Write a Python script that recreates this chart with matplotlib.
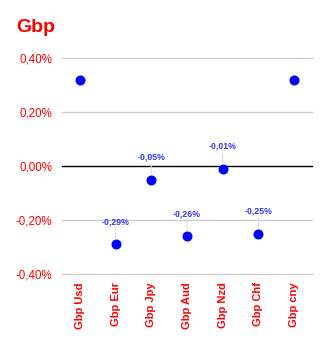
import matplotlib
matplotlib.use("Agg")
import matplotlib.pyplot as plt
from matplotlib.ticker import FuncFormatter

plt.rcParams["font.family"] = ["Liberation Sans", "DejaVu Sans"]

pairs = ["Gbp Usd", "Gbp Eur", "Gbp Jpy", "Gbp Aud", "Gbp Nzd", "Gbp Chf", "Gbp cny"]
changes = [0.32, -0.29, -0.05, -0.26, -0.01, -0.25, 0.32]
labelled = [False, True, True, True, True, True, False]
yticks = [-0.4, -0.2, 0.0, 0.2, 0.4]


def pct(v, _=None):
    return f"{v:.2f}%".replace(".", ",")


fig = plt.figure(figsize=(3.29, 3.44), dpi=100)
ax = fig.add_axes([62 / 329, 1 - 274 / 344, 250 / 329, 216 / 344])

x = list(range(len(pairs)))
ax.plot(x, changes, "o", color="#0000ff", markersize=6.2, zorder=3, linestyle="none")

for xi, v, show in zip(x, changes, labelled):
    if not show:
        continue
    ax.annotate(pct(v), (xi, v), xytext=(0, 13), textcoords="offset points",
                ha="center", va="bottom", color="#3333ff", fontsize=6.3, fontweight="bold",
                family=["Liberation Sans Narrow", "Liberation Sans", "DejaVu Sans"],
                arrowprops=dict(arrowstyle="-", color="#dddddd", lw=0.8, shrinkA=0, shrinkB=4))

ax.set_xlim(-0.5, len(pairs) - 0.5)
ax.set_ylim(-0.4, 0.4)
ax.set_yticks(yticks)
ax.yaxis.set_major_formatter(FuncFormatter(pct))
ax.set_xticks(x)
ax.set_xticklabels(pairs, rotation=90, fontweight="bold", color="red", fontsize=8)
ax.tick_params(axis="y", colors="red", labelsize=8.3, length=0, pad=7)
ax.tick_params(axis="x", length=0, pad=6)
for s in ax.spines.values():
    s.set_visible(False)
for t in yticks:
    ax.axhline(t, color="black" if t == 0 else "#cccccc", lw=1, zorder=1, clip_on=False)

fig.text(16 / 329, 1 - 28 / 344, "Gbp", color="red", fontsize=14, fontweight="bold", va="center", ha="left")

fig.savefig("out.png", dpi=100)
